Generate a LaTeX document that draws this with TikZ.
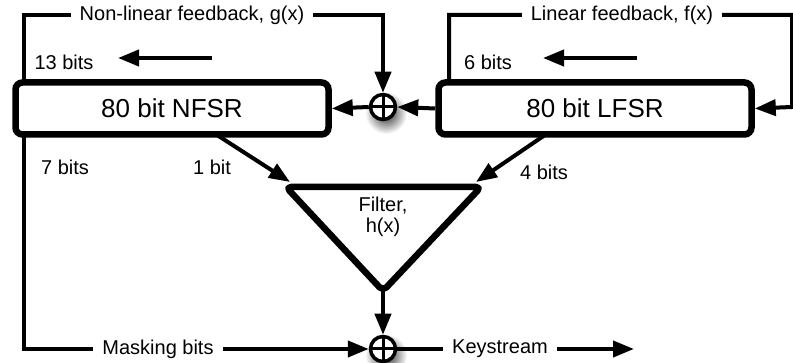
\documentclass[tikz,border=0pt]{standalone}
\usepackage{fontspec}
\setmainfont{Liberation Sans}
\usetikzlibrary{arrows.meta}

\begin{document}
\begin{tikzpicture}[x=1pt,y=-1pt,
  reg/.style={draw,line width=6.5pt,rounded corners=7pt,minimum width=313pt,
    minimum height=52pt,inner sep=0pt,font=\fontsize{26}{30}\selectfont},
  xorop/.style={circle,draw,line width=3.5pt,fill=white,minimum size=25pt,inner sep=0pt,
    path picture={\draw[line width=3pt]
      (path picture bounding box.north) -- (path picture bounding box.south)
      (path picture bounding box.west) -- (path picture bounding box.east);}},
  wire/.style={line width=4pt},
  arr/.style={wire,-{Triangle[length=21pt,width=16pt]}},
  lbl/.style={font=\fontsize{20}{24}\selectfont,inner sep=0pt},
  onwire/.style={lbl,fill=white,inner xsep=9pt,inner ysep=4pt},
  xshadow/.style={inner color=black!85,outer color=white}
]
\useasboundingbox (0,0) rectangle (793,363);

% XOR positions and their soft shadows
\coordinate (pa) at (383,107);
\coordinate (pb) at (383,349);
\shade[xshadow] ([shift={(3,6)}]pa) circle (21pt);
\shade[xshadow] ([shift={(3,6)}]pb) circle (21pt);

% registers
\node[reg] (nfsr) at (172,108.5) {80 bit NFSR};
\node[reg] (lfsr) at (595,108.5) {80 bit LFSR};

% XOR gates
\node[xorop] (xa) at (pa) {};
\node[xorop] (xb) at (pb) {};

% filter triangle
\coordinate (ftl) at (286,187);
\coordinate (ftr) at (481,187);
\coordinate (fb) at (383,291);
\draw[line width=6.5pt,rounded corners=5pt,line join=round]
  (383,187) -- (ftr) -- (fb) -- (ftl) -- cycle;
\node[lbl,align=center,font=\fontsize{20}{21}\selectfont] (filt) at (383,217) {Filter,\\h(x)};

% feedback taps
\coordinate (ngs) at (24,84);
\coordinate (ngc) at (24,15);
\coordinate (lfs) at (449,84);
\coordinate (lfc1) at (449,15);
\coordinate (lfc2) at (792,15);
\coordinate (lfc3) at (792,107);
\draw[arr] (ngs) -- (ngc) -| (xa.north);
\draw[arr] (lfs) -- (lfc1) -- (lfc2) -- (lfc3) -- (lfsr.east);
\node[onwire] (nlab) at (192,15) {Non-linear feedback, g(x)};
\node[onwire] (llab) at (622,15) {Linear feedback, f(x)};

% shift direction markers
\coordinate (s13a) at (212,58);
\coordinate (s13b) at (118,58);
\coordinate (s6a) at (637,58);
\coordinate (s6b) at (543,58);
\draw[arr] (s13a) -- (s13b);
\draw[arr] (s6a) -- (s6b);
\node[lbl] (b13) at (64,62) {13 bits};
\node[lbl] (b6) at (488,62) {6 bits};

% register interconnect through the XOR
\draw[arr] (lfsr.west) -- (xa.east);
\draw[arr] (xa.west) -- (nfsr.east);

% inputs to the filter
\coordinate (n1) at (217,135);
\coordinate (l4) at (545,135);
\coordinate (fin1) at (290,182);
\coordinate (fin4) at (476,182);
\draw[arr] (n1) -- (fin1);
\draw[arr] (l4) -- (fin4);
\node[lbl] (b7) at (65,167) {7 bits};
\node[lbl] (b1) at (212,167) {1 bit};
\node[lbl] (b4) at (544,172) {4 bits};

% output stage
\coordinate (m7) at (24,135);
\coordinate (ks) at (634,349);
\draw[arr] (m7) |- (xb.west);
\draw[arr] (fb) -- (xb.north);
\draw[arr] (xb.east) -- (ks);
\node[onwire] (mlab) at (158,349) {Masking bits};
\node[onwire] (klab) at (500,349) {Keystream};
\end{tikzpicture}
\end{document}
